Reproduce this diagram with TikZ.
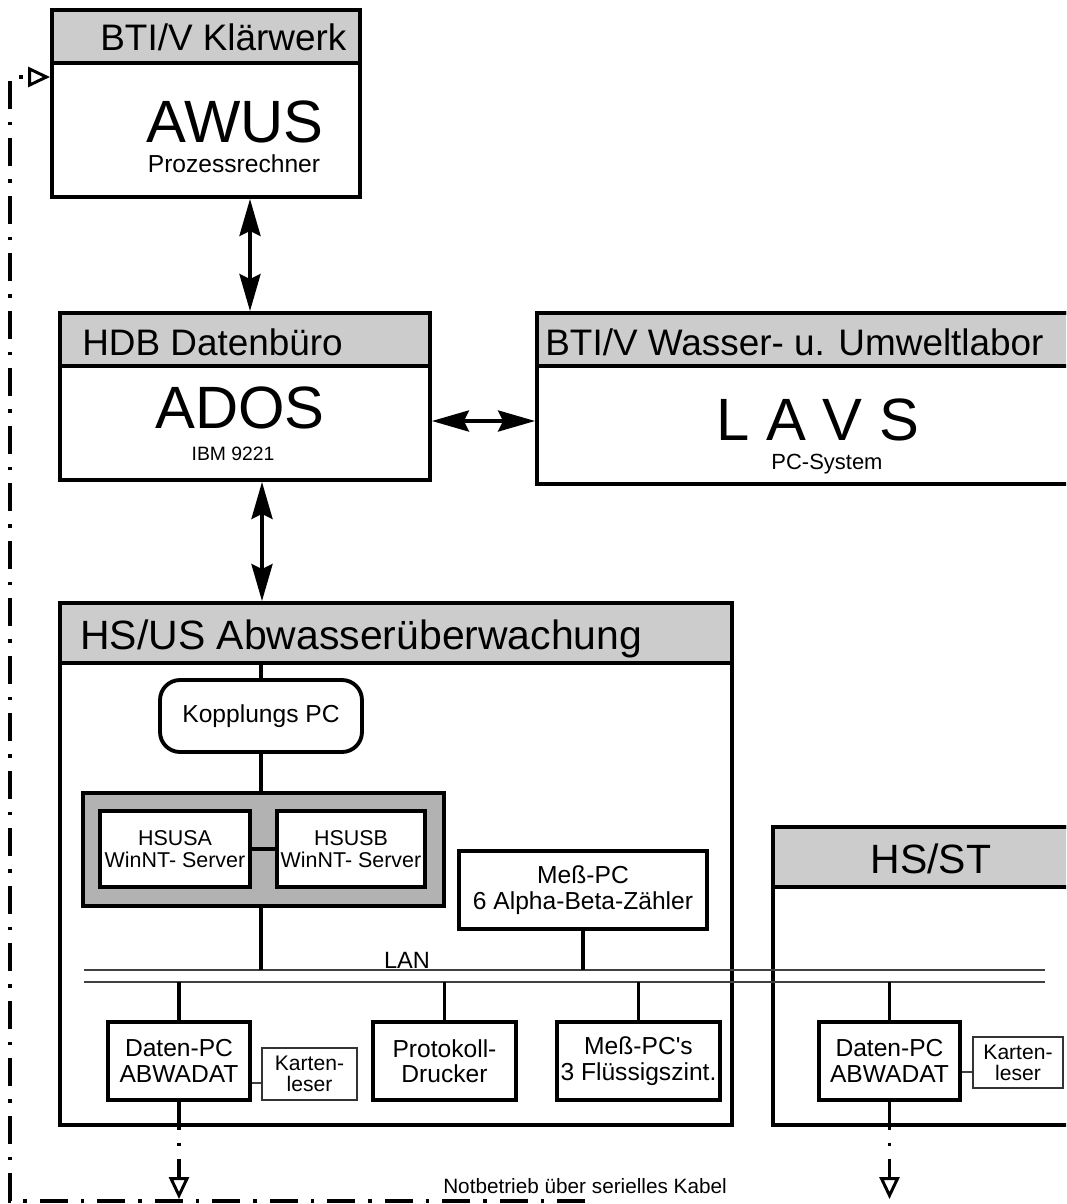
\documentclass[tikz,border=0pt]{standalone}
\usepackage{fontspec}
\setmainfont{Liberation Sans}
\usetikzlibrary{fit,arrows.meta}
\tikzstyle{frame}=[draw=black,line width=2.2pt,inner sep=0pt]
\tikzstyle{head}=[frame,fill=black!20]
\tikzstyle{unit}=[frame,fill=white,align=center,font=\fontsize{14}{14.5}\selectfont]
\tikzstyle{reader}=[draw=black!80,line width=0.7pt,inner sep=0pt,fill=white,align=center,font=\fontsize{12}{12}\selectfont]
\tikzstyle{title}=[inner sep=0pt,anchor=base west,font=\fontsize{21}{21}\selectfont]
\tikzstyle{big}=[inner sep=0pt,anchor=base,font=\fontsize{34}{34}\selectfont]
\tikzstyle{sub}=[inner sep=0pt,anchor=base]
\tikzstyle{bus}=[line width=2.2pt]
\tikzstyle{lan}=[line width=0.8pt,black!75]
\tikzstyle{duplex}=[bus,{Stealth[length=0.74cm,width=0.42cm,inset=0.1cm]}-{Stealth[length=0.74cm,width=0.42cm,inset=0.1cm]}]
\tikzstyle{serial}=[line width=1.8pt,dash pattern=on 0.56cm off 0.26cm on 0.07cm off 0.26cm,
  -{Triangle[open,length=0.44cm,width=0.4cm,line width=1.7pt]}]
\newcommand{\sz}[1]{\fontsize{#1}{#1}\selectfont}

\begin{document}
\begin{tikzpicture}[x=0.02cm,y=-0.02cm]
  \useasboundingbox (0,0) rectangle (1066,1204);
  \clip (0,0) rectangle (1066,1204);

  % Klaerwerk
  \node[frame,fit={(52,10) (360,197)}] (awus) {};
  \node[head,fit={(52,10) (360,63)}] (awushead) {};
  \node[title] (awustitle) at (100,50) {BTI/V Klärwerk};
  \node[big] (awusname) at (235,142) {AWUS};
  \node[sub,font=\sz{14}] (awustype) at (234,172) {Prozessrechner};

  % Datenbuero
  \node[frame,fit={(60,313) (430,480)}] (ados) {};
  \node[head,fit={(60,313) (430,366)}] (adoshead) {};
  \node[title] (adostitle) at (82,355) {HDB Datenbüro};
  \node[big] (adosname) at (240,428) {ADOS};
  \node[sub,font=\sz{11}] (adostype) at (233,460) {IBM 9221};

  % Labor
  \node[frame,fit={(537,313) (1090,484)}] (lavs) {};
  \node[head,fit={(537,313) (1090,366)}] (lavshead) {};
  \node[title] (lavstitle) at (545,355) {BTI/V Wasser- u. Umweltlabor};
  \node[big] (lavsname) at (818,440) {L A V S};
  \node[sub,font=\sz{12.5}] (lavstype) at (827,469) {PC-System};

  % Abwasserueberwachung
  \node[frame,fit={(60,603) (732,1125)}] (hsus) {};
  \node[head,fit={(60,603) (732,663)}] (hsushead) {};
  \node[title,font=\sz{23.3}] (hsustitle) at (80,649) {HS/US Abwasserüberwachung};
  \node[unit,rounded corners=0.4cm,minimum width=4.04cm,minimum height=1.44cm] (kopp) at (261,716) {Kopplungs PC};
  \node[frame,fill=black!30,fit={(83,793) (444,906)}] (server) {};
  \node[unit,font=\fontsize{12.2}{12.5}\selectfont,minimum width=3cm,minimum height=1.52cm] (hsusa) at (175,849) {HSUSA\\WinNT- Server};
  \node[unit,font=\fontsize{12.2}{12.5}\selectfont,minimum width=2.96cm,minimum height=1.52cm] (hsusb) at (351,849) {HSUSB\\WinNT- Server};
  \node[unit,minimum width=4.96cm,minimum height=1.56cm] (messpc) at (583,890) {Meß-PC\\6 Alpha-Beta-Zähler};

  % HS/ST
  \node[frame,fit={(773,827) (1090,1125)}] (hsst) {};
  \node[head,fit={(773,827) (1090,887)}] (hssthead) {};
  \node[sub,font=\sz{23.3}] (hssttitle) at (931,873) {HS/ST};

  % LAN
  \draw[lan] (84,970) coordinate (lanA) -- (1045,970);
  \draw[lan] (84,982) coordinate (lanB) -- (1045,982);
  \node[sub,font=\sz{13.4}] (lanlabel) at (407,968) {LAN};

  \node[unit,minimum width=2.84cm,minimum height=1.56cm] (datenA) at (179,1061) {Daten-PC\\ABWADAT};
  \node[reader,minimum width=1.9cm,minimum height=1.04cm] (readerA) at (309.5,1074) {Karten-\\leser};
  \node[unit,minimum width=2.86cm,minimum height=1.56cm] (drucker) at (444.5,1061) {Protokoll-\\Drucker};
  \node[unit,minimum width=3.26cm,minimum height=1.56cm] (messpcs) at (638.5,1061) {Meß-PC\textquotesingle s\\3 Flüssigszint.};
  \node[unit,minimum width=2.82cm,minimum height=1.56cm] (datenB) at (889.5,1061) {Daten-PC\\ABWADAT};
  \node[reader,minimum width=1.8cm,minimum height=1.02cm] (readerB) at (1018,1062.5) {Karten-\\leser};

  % connections
  \draw[duplex] (awus.south -| 250,0) -- (adoshead.north -| 250,0);
  \draw[duplex] (ados.east |- 0,421) -- (lavs.west |- 0,421);
  \draw[duplex] (ados.south -| 262,0) -- (hsushead.north -| 262,0);
  \draw[bus] (hsushead.south -| kopp.north) -- (kopp.north);
  \draw[bus] (kopp.south) -- (server.north -| kopp.south);
  \draw[bus] (hsusa.east) -- (hsusb.west);
  \draw[bus] (server.south -| kopp.south) -- (lanA -| kopp.south);
  \draw[bus] (messpc.south) -- (messpc.south |- lanA);
  \draw[bus] (lanB -| datenA.north) -- (datenA.north);
  \draw[bus] (lanB -| drucker.north) -- (drucker.north);
  \draw[bus] (lanB -| messpcs.north) -- (messpcs.north);
  \draw[bus] (lanB -| datenB.north) -- (datenB.north);
  \draw[lan] (datenA.east |- 0,1083) -- (readerA.west |- 0,1083);
  \draw[lan] (datenB.east |- 0,1072) -- (readerB.west |- 0,1072);

  % serial cable for emergency mode
  \coordinate (kabelA) at (datenA.south |- 0,1199);
  \coordinate (kabelB) at (datenB.south |- 0,1199);
  \coordinate (kabelend) at (585,1201);
  \coordinate (kabelcorner) at (10,1201);
  \coordinate (kabeltop) at (10,77);
  \draw[serial] (datenA.south) -- (kabelA);
  \draw[serial] (datenB.south) -- (kabelB);
  \draw[serial] (kabelend) -- (kabelcorner) -- (kabeltop) -- (awus.west |- kabeltop);
  \node[sub,font=\sz{11.8}] (kabellabel) at (585,1193) {Notbetrieb über serielles Kabel};
\end{tikzpicture}
\end{document}
